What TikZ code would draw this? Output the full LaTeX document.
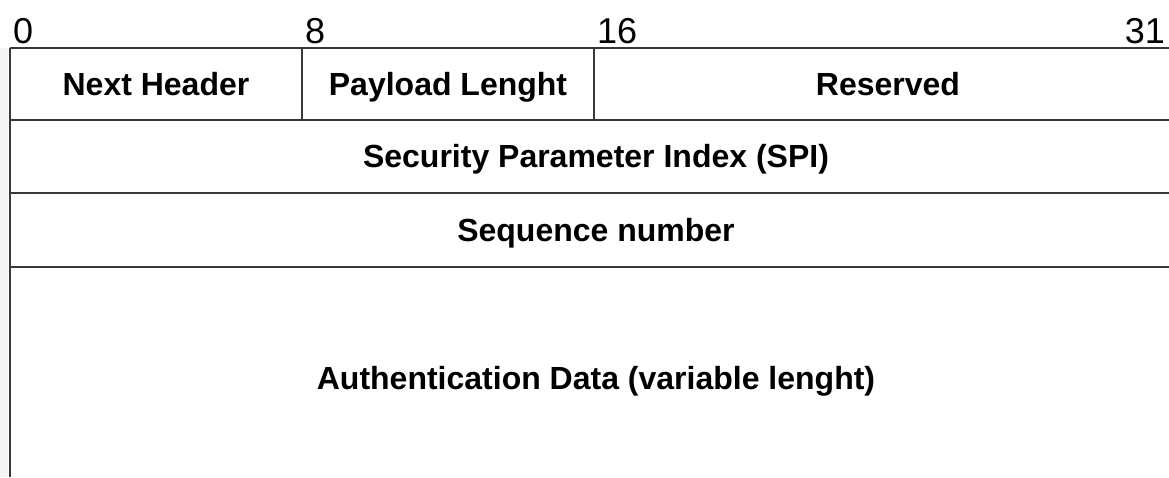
\documentclass[tikz,border=0pt]{standalone}
\usepackage{fontspec}
\setmainfont{Liberation Sans}
\usetikzlibrary{positioning}
\tikzset{
  row line/.style={line width=1.5pt, color=black!78},
  field text/.style={font=\fontsize{32}{38}\selectfont\bfseries, inner sep=0pt, text height=23pt, text depth=0pt},
  bit label/.style={font=\fontsize{36}{42}\selectfont, inner sep=0pt}
}

\begin{document}
\begin{tikzpicture}[x=1pt,y=1pt]
    \useasboundingbox (0,0) rectangle (1169,477);
    \pgfmathsetmacro{\leftX}{10}
    \pgfmathsetmacro{\rightX}{1182}
    \pgfmathsetmacro{\divA}{302}
    \pgfmathsetmacro{\divB}{594}

    \pgfmathsetmacro{\rowA}{429}
    \pgfmathsetmacro{\rowB}{357}
    \pgfmathsetmacro{\rowC}{284}
    \pgfmathsetmacro{\rowD}{210}
    \pgfmathsetmacro{\bitY}{433}

    % Left margin strip
    \fill[black!4] (0,0) rectangle (8,\rowA);

    % Bit numbers
    \node[bit label, anchor=base west] (bit0) at (13,\bitY) {0};
    \node[bit label, anchor=base west] (bit8) at (\divA+3,\bitY) {8};
    \node[bit label, anchor=base west] (bit16) at (\divB+3,\bitY) {16};
    \node[bit label, anchor=base east] (bit31) at (1165,\bitY) {31};

    % Row lines
    \foreach \yy in {\rowA,\rowB,\rowC,\rowD}{
        \draw[row line] (\leftX,\yy) -- (\rightX,\yy);
    }
    \draw[row line] (\leftX,\rowA) -- (\leftX,0);

    % Field dividers
    \draw[row line] (\divA,\rowA) -- (\divA,\rowB);
    \draw[row line] (\divB,\rowA) -- (\divB,\rowB);

    % Row 1
    \node[field text] (nexthdr) at ({(\leftX+\divA)/2},{(\rowA+\rowB)/2}) {Next Header};
    \node[field text] (paylen) at ({(\divA+\divB)/2},{(\rowA+\rowB)/2}) {Payload Lenght};
    \node[field text] (reserved) at ({(\divB+\rightX)/2},{(\rowA+\rowB)/2}) {Reserved};

    % Row 2 and 3
    \node[field text] (spi) at ({(\leftX+\rightX)/2},{(\rowB+\rowC)/2}) {Security Parameter Index (SPI)};
    \node[field text] (seqnum) at ({(\leftX+\rightX)/2},{(\rowC+\rowD)/2}) {Sequence number};

    % Row 4
    \node[field text] (authdata) at ({(\leftX+\rightX)/2},99) {Authentication Data (variable lenght)};
\end{tikzpicture}
\end{document}
